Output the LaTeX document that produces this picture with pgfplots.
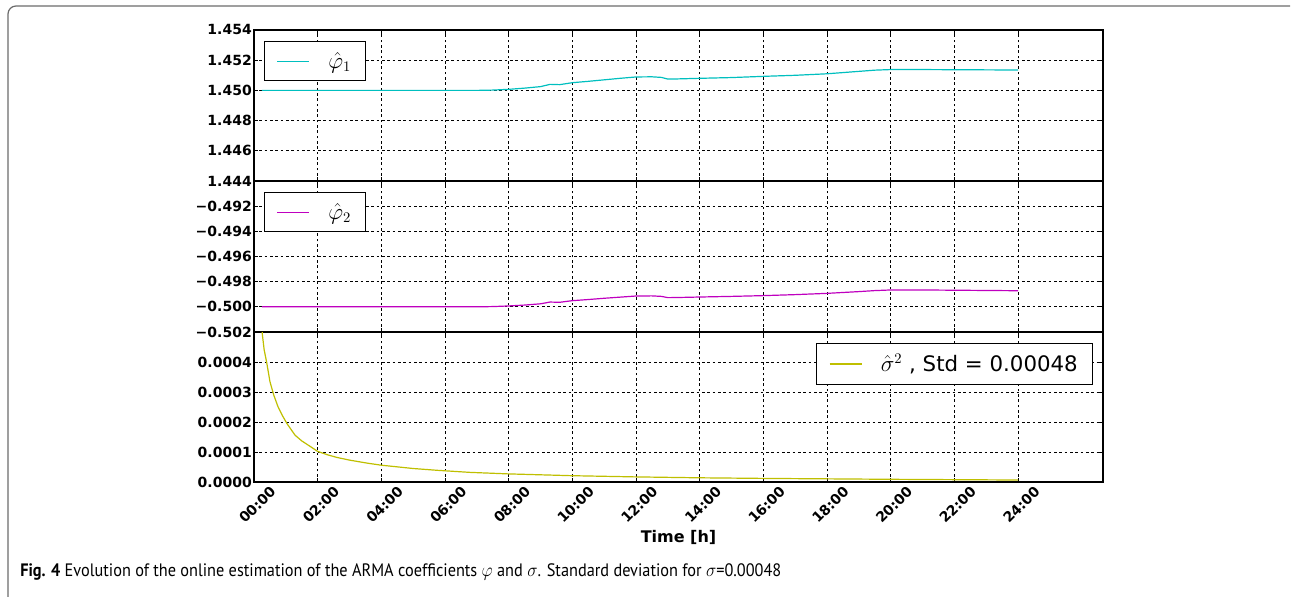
\documentclass[border=0pt]{standalone}
\usepackage{fontspec}
\usepackage{graphicx}
\setmainfont{DejaVu Sans}
\newfontfamily\capfont{PT Sans}
\usepackage{pgfplots}
\pgfplotsset{compat=1.18}
\definecolor{mc}{rgb}{0,0.75,0.75}
\definecolor{mm}{rgb}{0.75,0,0.75}
\definecolor{my}{rgb}{0.75,0.75,0}
\definecolor{framegray}{rgb}{0.42,0.42,0.42}
\pgfplotsset{
 panel/.style={
  scale only axis, width=636.75pt, xmin=0, xmax=26.67,
  xtick={0,2,4,6,8,10,12,14,16,18,20,22,24},
  grid=major,
  major grid style={black, line width=0.6pt, dash pattern=on 2pt off 2pt},
  axis line style={black, line width=0.8pt},
  tick align=inside, major tick length=3pt, tick style={black, line width=0.6pt},
  yticklabel style={font=\fontsize{10.5}{12}\selectfont\bfseries, inner xsep=1.5pt},
  xticklabel style={font=\fontsize{10.5}{12}\selectfont\bfseries},
  scaled y ticks=false,
  legend style={draw=black, line width=0.75pt, inner xsep=9pt, inner ysep=6pt,
    font=\fontsize{16}{19}\selectfont, fill=white, legend cell align=left},
  legend image code/.code={\draw[#1] (0pt,0pt) -- (24pt,0pt);},
  every axis plot/.append style={line width=0.9pt},
 }
}
\begin{document}
\begin{tikzpicture}
\useasboundingbox (-190.5pt,-85.5pt) rectangle (777.75pt,361.5pt);
\draw[line width=0.9pt, framegray, rounded corners=6pt] (-184.5pt,-90pt) -- (-184.5pt,357pt) -- (777pt,357pt);

% top panel
\begin{axis}[panel, at={(0pt,225.75pt)}, anchor=south west, height=113.25pt,
  ymin=1.444, ymax=1.454,
  ytick={1.444,1.446,1.448,1.450,1.452,1.454},
  yticklabels={1.444,1.446,1.448,1.450,1.452,1.454},
  xticklabels={},
  legend style={at={(0,1)}, anchor=north west, xshift=7.5pt, yshift=-8.25pt}]
\addplot[mc] coordinates {
(0.25,1.45000) (2,1.45000) (4,1.45000) (6,1.45000) (7.0,1.45000) (7.5,1.45002)
(8.0,1.45007) (8.5,1.45015) (9.0,1.45025) (9.3,1.45040) (9.6,1.45038) (10.0,1.45051)
(10.5,1.45060) (11.0,1.45070) (11.5,1.45080) (12.0,1.45089) (12.5,1.45090) (12.8,1.45086)
(13.0,1.45075) (13.3,1.45076) (14.0,1.45080) (15.0,1.45085) (16.0,1.45093) (17.0,1.45100)
(18.0,1.45110) (19.0,1.45126) (19.5,1.45134) (20.0,1.45138) (21.0,1.45138) (22.0,1.45137)
(23.0,1.45136) (24.0,1.45135)};
\addlegendentry{\hspace*{12pt}$\hat{\varphi}_1$}
\end{axis}

% middle panel
\begin{axis}[panel, at={(0pt,112.5pt)}, anchor=south west, height=113.25pt,
  ymin=-0.502, ymax=-0.490,
  ytick={-0.502,-0.500,-0.498,-0.496,-0.494,-0.492},
  yticklabels={−0.502,−0.500,−0.498,−0.496,−0.494,−0.492},
  xticklabels={},
  legend style={at={(0,1)}, anchor=north west, xshift=7.5pt, yshift=-8.25pt}]
\addplot[mm] coordinates {
(0.25,-0.50000) (2,-0.50000) (4,-0.50000) (6,-0.50000) (7.0,-0.50000) (7.5,-0.49998)
(8.0,-0.49993) (8.5,-0.49986) (9.0,-0.49976) (9.3,-0.49962) (9.6,-0.49964) (10.0,-0.49951)
(10.5,-0.49942) (11.0,-0.49932) (11.5,-0.49923) (12.0,-0.49914) (12.5,-0.49913) (12.8,-0.49917)
(13.0,-0.49927) (13.3,-0.49926) (14.0,-0.49922) (15.0,-0.49917) (16.0,-0.49911) (17.0,-0.49903)
(18.0,-0.49893) (19.0,-0.49879) (19.5,-0.49871) (20.0,-0.49866) (21.0,-0.49866) (22.0,-0.49868)
(23.0,-0.49870) (24.0,-0.49872)};
\addlegendentry{\hspace*{12pt}$\hat{\varphi}_2$}
\end{axis}

% bottom panel
\begin{axis}[panel, at={(0pt,0pt)}, anchor=south west, height=112.5pt,
  ymin=0, ymax=0.0005,
  ytick={0,0.0001,0.0002,0.0003,0.0004},
  yticklabels={0.0000,0.0001,0.0002,0.0003,0.0004},
  xticklabels={00:00,02:00,04:00,06:00,08:00,10:00,12:00,14:00,16:00,18:00,20:00,22:00,24:00},
  xticklabel style={rotate=45, anchor=north east, xshift=10pt, yshift=-6.2pt},
  xlabel={Time [h]},
  xlabel style={font=\fontsize{12}{14}\selectfont\bfseries, at={(axis description cs:0.5,0)}, anchor=center, yshift=-41.25pt},
  legend style={at={(1,1)}, anchor=north east, xshift=-7.5pt, yshift=-8.25pt}]
\addplot[my] coordinates {
(0.24,0.00052) (0.26,0.000494) (0.32,0.00044) (0.40,0.000398) (0.50,0.000335) (0.62,0.00029)
(0.75,0.000252) (0.9,0.00022) (1.04,0.000194) (1.29,0.000156) (1.5,0.000137) (1.76,0.000119)
(2.0,0.000102) (2.3,0.000091) (2.6,0.000082) (3.0,0.000073) (3.55,0.000063) (4.0,0.000056)
(5.0,0.000045) (5.75,0.000039) (6.8,0.000032) (8,0.000027) (9,0.000024) (10,0.000021)
(12,0.000017) (14,0.000014) (16,0.000012) (18,0.0000105) (20,0.0000090) (22,0.0000078)
(24,0.0000066)};
\addlegendentry{\hspace*{12pt}$\hat{\sigma}^2$ , Std = 0.00048}
\end{axis}

\node[anchor=base west, inner sep=0pt, font=\capfont\fontsize{13.5}{16}\selectfont] at (-175.5pt,-70.5pt)
 {\scalebox{0.905}[1]{\textbf{Fig. 4} Evolution of the online estimation of the ARMA coefficients $\varphi$ and $\sigma$. Standard deviation for $\sigma$=0.00048}};
\end{tikzpicture}
\end{document}
